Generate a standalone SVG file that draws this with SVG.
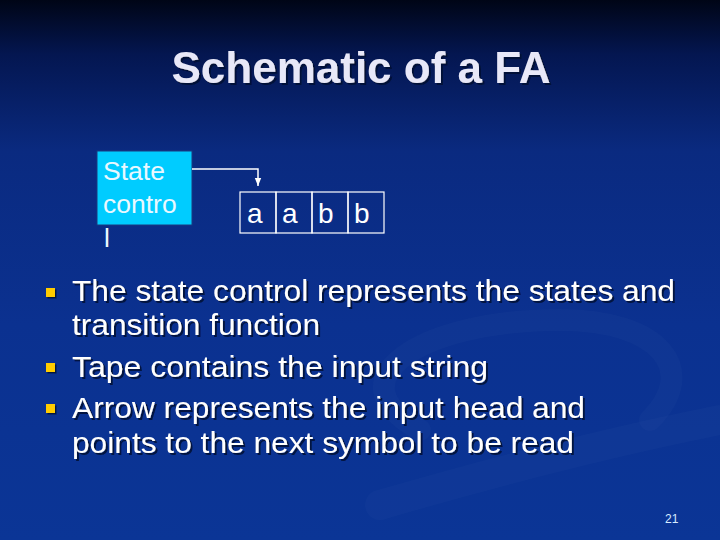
<svg xmlns="http://www.w3.org/2000/svg" width="720" height="540" viewBox="0 0 720 540">
  <defs>
    <linearGradient id="bg" x1="0" y1="0" x2="0" y2="1">
      <stop offset="0" stop-color="#000516"/>
      <stop offset="0.1" stop-color="#041650"/>
      <stop offset="0.28" stop-color="#0a2a80"/>
      <stop offset="0.6" stop-color="#0b3190"/>
      <stop offset="1" stop-color="#0b3596"/>
    </linearGradient>
    <filter id="shadow" x="-5%" y="-20%" width="110%" height="140%">
      <feDropShadow dx="2" dy="2" stdDeviation="0.6" flood-color="#000a30" flood-opacity="0.85"/>
    </filter>
    <filter id="bshadow" x="-30%" y="-30%" width="160%" height="160%">
      <feDropShadow dx="1.5" dy="1.5" stdDeviation="0.5" flood-color="#000a30" flood-opacity="0.8"/>
    </filter>
    <marker id="arrow" markerUnits="userSpaceOnUse" markerWidth="8" markerHeight="8" viewBox="0 0 8 8" refX="8" refY="4" orient="auto">
      <path d="M0,0.8 L8,4 L0,7.2 Z" fill="#ffffff"/>
    </marker>
    <style>
      .sans { font-family: "Liberation Sans", Arial, sans-serif; }
      .title { font-size: 44px; font-weight: bold; fill: #e8e8f8; }
      .body { font-size: 30px; fill: #ffffff; }
      .box { fill: #00ccff; stroke: #1a3a80; stroke-width: 1; }
      .boxtext { font-size: 26.5px; fill: #eaf8ff; }
      .cell { fill: none; stroke: #ffffff; stroke-width: 1.2; }
      .cellt { font-size: 28px; fill: #ffffff; }
      .bullet { fill: #ffcc00; }
      .conn { fill: none; stroke: #ffffff; stroke-width: 1.5; }
      .swoosh { fill: none; stroke: #ffffff; stroke-opacity: 0.02; stroke-linecap: round; }
    </style>
  </defs>

  <rect x="0" y="0" width="720" height="540" fill="url(#bg)"/>
  <!-- faint background swoosh -->
  <path class="swoosh" stroke-width="22" d="M420 430 C 330 380, 420 320, 560 320 C 660 320, 700 370, 650 420"/>
  <path class="swoosh" stroke-width="30" d="M380 505 C 500 470, 620 440, 720 420"/>

  <g id="title">
    <text class="sans title" x="361" y="83" text-anchor="middle" filter="url(#shadow)">Schematic of a FA</text>
  </g>

  <g id="state-control">
    <rect class="box" x="97" y="151" width="95" height="74"/>
    <text class="sans boxtext" x="103" y="180">State</text>
    <text class="sans boxtext" x="103" y="213">contro</text>
    <text class="sans boxtext" x="104" y="247">l</text>
  </g>

  <g id="tape">
    <rect class="cell" x="240" y="192" width="36" height="41"/>
    <rect class="cell" x="276" y="192" width="36" height="41"/>
    <rect class="cell" x="312" y="192" width="36" height="41"/>
    <rect class="cell" x="348" y="192" width="36" height="41"/>
    <text class="sans cellt" x="247" y="223">a</text>
    <text class="sans cellt" x="282" y="223">a</text>
    <text class="sans cellt" x="318" y="223">b</text>
    <text class="sans cellt" x="354" y="223">b</text>
  </g>

  <g id="connectors">
    <path class="conn" d="M192 169 H258 V186" marker-end="url(#arrow)"/>
  </g>

  <g id="bullets">
    <rect class="bullet" x="46" y="288" width="9" height="9" filter="url(#bshadow)"/>
    <rect class="bullet" x="46" y="363" width="9" height="9" filter="url(#bshadow)"/>
    <rect class="bullet" x="46" y="404" width="9" height="9" filter="url(#bshadow)"/>
    <g class="sans body" filter="url(#shadow)">
      <text x="72" y="301" textLength="603" lengthAdjust="spacingAndGlyphs">The state control represents the states and</text>
      <text x="72" y="335" textLength="248" lengthAdjust="spacingAndGlyphs">transition function</text>
      <text x="72" y="377" textLength="416" lengthAdjust="spacingAndGlyphs">Tape contains the input string</text>
      <text x="72" y="418" textLength="513" lengthAdjust="spacingAndGlyphs">Arrow represents the input head and</text>
      <text x="72" y="453" textLength="502" lengthAdjust="spacingAndGlyphs">points to the next symbol to be read</text>
    </g>
  </g>

  <g id="page-number">
    <text class="sans" x="665" y="523" font-size="12" fill="#d8ecff">21</text>
  </g>
</svg>
